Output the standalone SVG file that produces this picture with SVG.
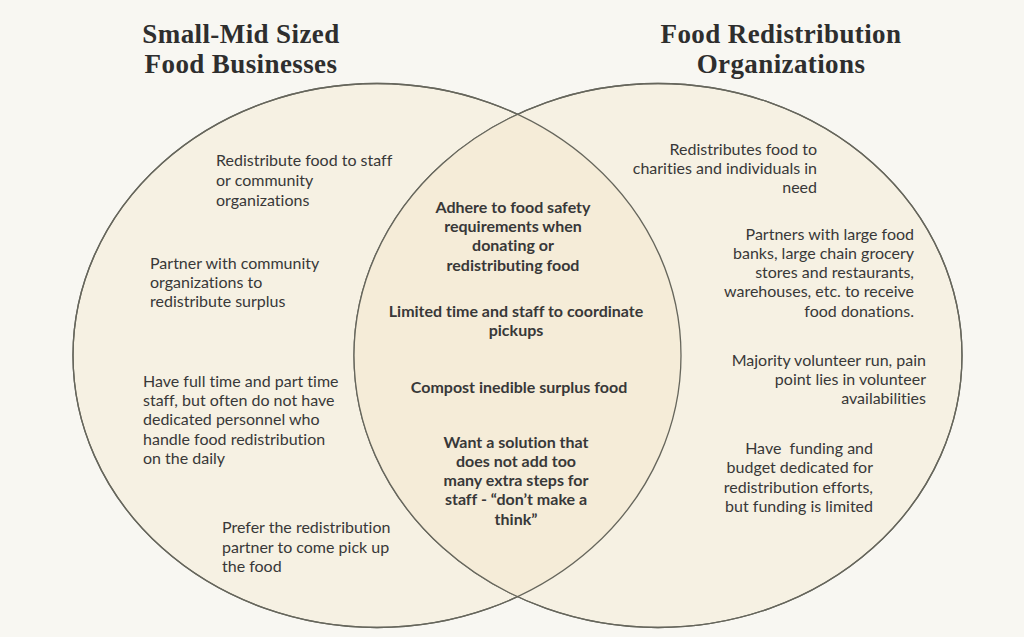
<svg xmlns="http://www.w3.org/2000/svg" width="1024" height="637" viewBox="0 0 1024 637">
<defs>
<style>
.bg{fill:#f8f7f2}
.set{fill:#f6f1e3;stroke:#66665c;stroke-width:1.3}
.lens{fill:#f5ecd8}
.outline{fill:none;stroke:#66665c;stroke-width:1.3}
.title{font-family:"Liberation Serif","DejaVu Serif",serif;font-weight:bold;font-size:27px;letter-spacing:0.4px;fill:#2e2e2e;text-anchor:middle}
.t{font-family:Lato,"Open Sans",sans-serif;font-size:16px;fill:#383838;white-space:pre;font-variant-ligatures:none}
.b{font-family:Lato,"Open Sans",sans-serif;font-size:16px;font-weight:bold;fill:#383838;text-anchor:middle;font-variant-ligatures:none}
.r{text-anchor:end}
</style>
<clipPath id="clipL"><ellipse cx="377" cy="355.5" rx="304" ry="272"/></clipPath>
</defs>
<rect class="bg" x="0" y="0" width="1024" height="637"/>
<g id="set-left"><ellipse class="set" cx="377" cy="355.5" rx="304" ry="272"/></g>
<g id="set-right"><ellipse class="set" cx="658" cy="355.5" rx="304" ry="272"/></g>
<g id="overlap">
<ellipse class="lens" cx="658" cy="355.5" rx="304" ry="272" clip-path="url(#clipL)"/>
<ellipse class="outline" cx="377" cy="355.5" rx="304" ry="272"/>
<ellipse class="outline" cx="658" cy="355.5" rx="304" ry="272"/>
</g>
<g id="title-left">
<text class="title" x="241" y="43">Small-Mid Sized</text>
<text class="title" x="241" y="73">Food Businesses</text>
</g>
<g id="title-right">
<text class="title" x="781" y="43">Food Redistribution</text>
<text class="title" x="781" y="73">Organizations</text>
</g>
<g id="left-1"><text class="t" x="216" y="166">Redistribute food to staff</text><text class="t" x="216" y="186">or community</text><text class="t" x="216" y="206">organizations</text></g>
<g id="left-2"><text class="t" x="150" y="269">Partner with community</text><text class="t" x="150" y="288">organizations to</text><text class="t" x="150" y="307">redistribute surplus</text></g>
<g id="left-3"><text class="t" x="143" y="387">Have full time and part time</text><text class="t" x="143" y="406">staff, but often do not have</text><text class="t" x="143" y="425">dedicated personnel who</text><text class="t" x="143" y="445">handle food redistribution</text><text class="t" x="143" y="464">on the daily</text></g>
<g id="left-4"><text class="t" x="222" y="533">Prefer the redistribution</text><text class="t" x="222" y="553">partner to come pick up</text><text class="t" x="222" y="572">the food</text></g>
<g id="mid-1"><text class="b" x="513" y="213">Adhere to food safety</text><text class="b" x="513" y="232">requirements when</text><text class="b" x="513" y="251">donating or</text><text class="b" x="513" y="271">redistributing food</text></g>
<g id="mid-2"><text class="b" x="516" y="317">Limited time and staff to coordinate</text><text class="b" x="516" y="336">pickups</text></g>
<g id="mid-3"><text class="b" x="519" y="393">Compost inedible surplus food</text></g>
<g id="mid-4"><text class="b" x="516" y="448">Want a solution that</text><text class="b" x="516" y="467">does not add too</text><text class="b" x="516" y="486">many extra steps for</text><text class="b" x="516" y="505">staff - “don’t make a</text><text class="b" x="516" y="525">think”</text></g>
<g id="right-1"><text class="t r" x="817" y="155">Redistributes food to</text><text class="t r" x="817" y="174">charities and individuals in</text><text class="t r" x="817" y="193">need</text></g>
<g id="right-2"><text class="t r" x="914" y="240">Partners with large food</text><text class="t r" x="914" y="259">banks, large chain grocery</text><text class="t r" x="914" y="278">stores and restaurants,</text><text class="t r" x="914" y="297">warehouses, etc. to receive</text><text class="t r" x="914" y="317">food donations.</text></g>
<g id="right-3"><text class="t r" x="926" y="366">Majority volunteer run, pain</text><text class="t r" x="926" y="385">point lies in volunteer</text><text class="t r" x="926" y="404">availabilities</text></g>
<g id="right-4"><text class="t r" x="873" y="454">Have  funding and</text><text class="t r" x="873" y="473">budget dedicated for</text><text class="t r" x="873" y="493">redistribution efforts,</text><text class="t r" x="873" y="512">but funding is limited</text></g>
<g id="connectors"></g>
</svg>
